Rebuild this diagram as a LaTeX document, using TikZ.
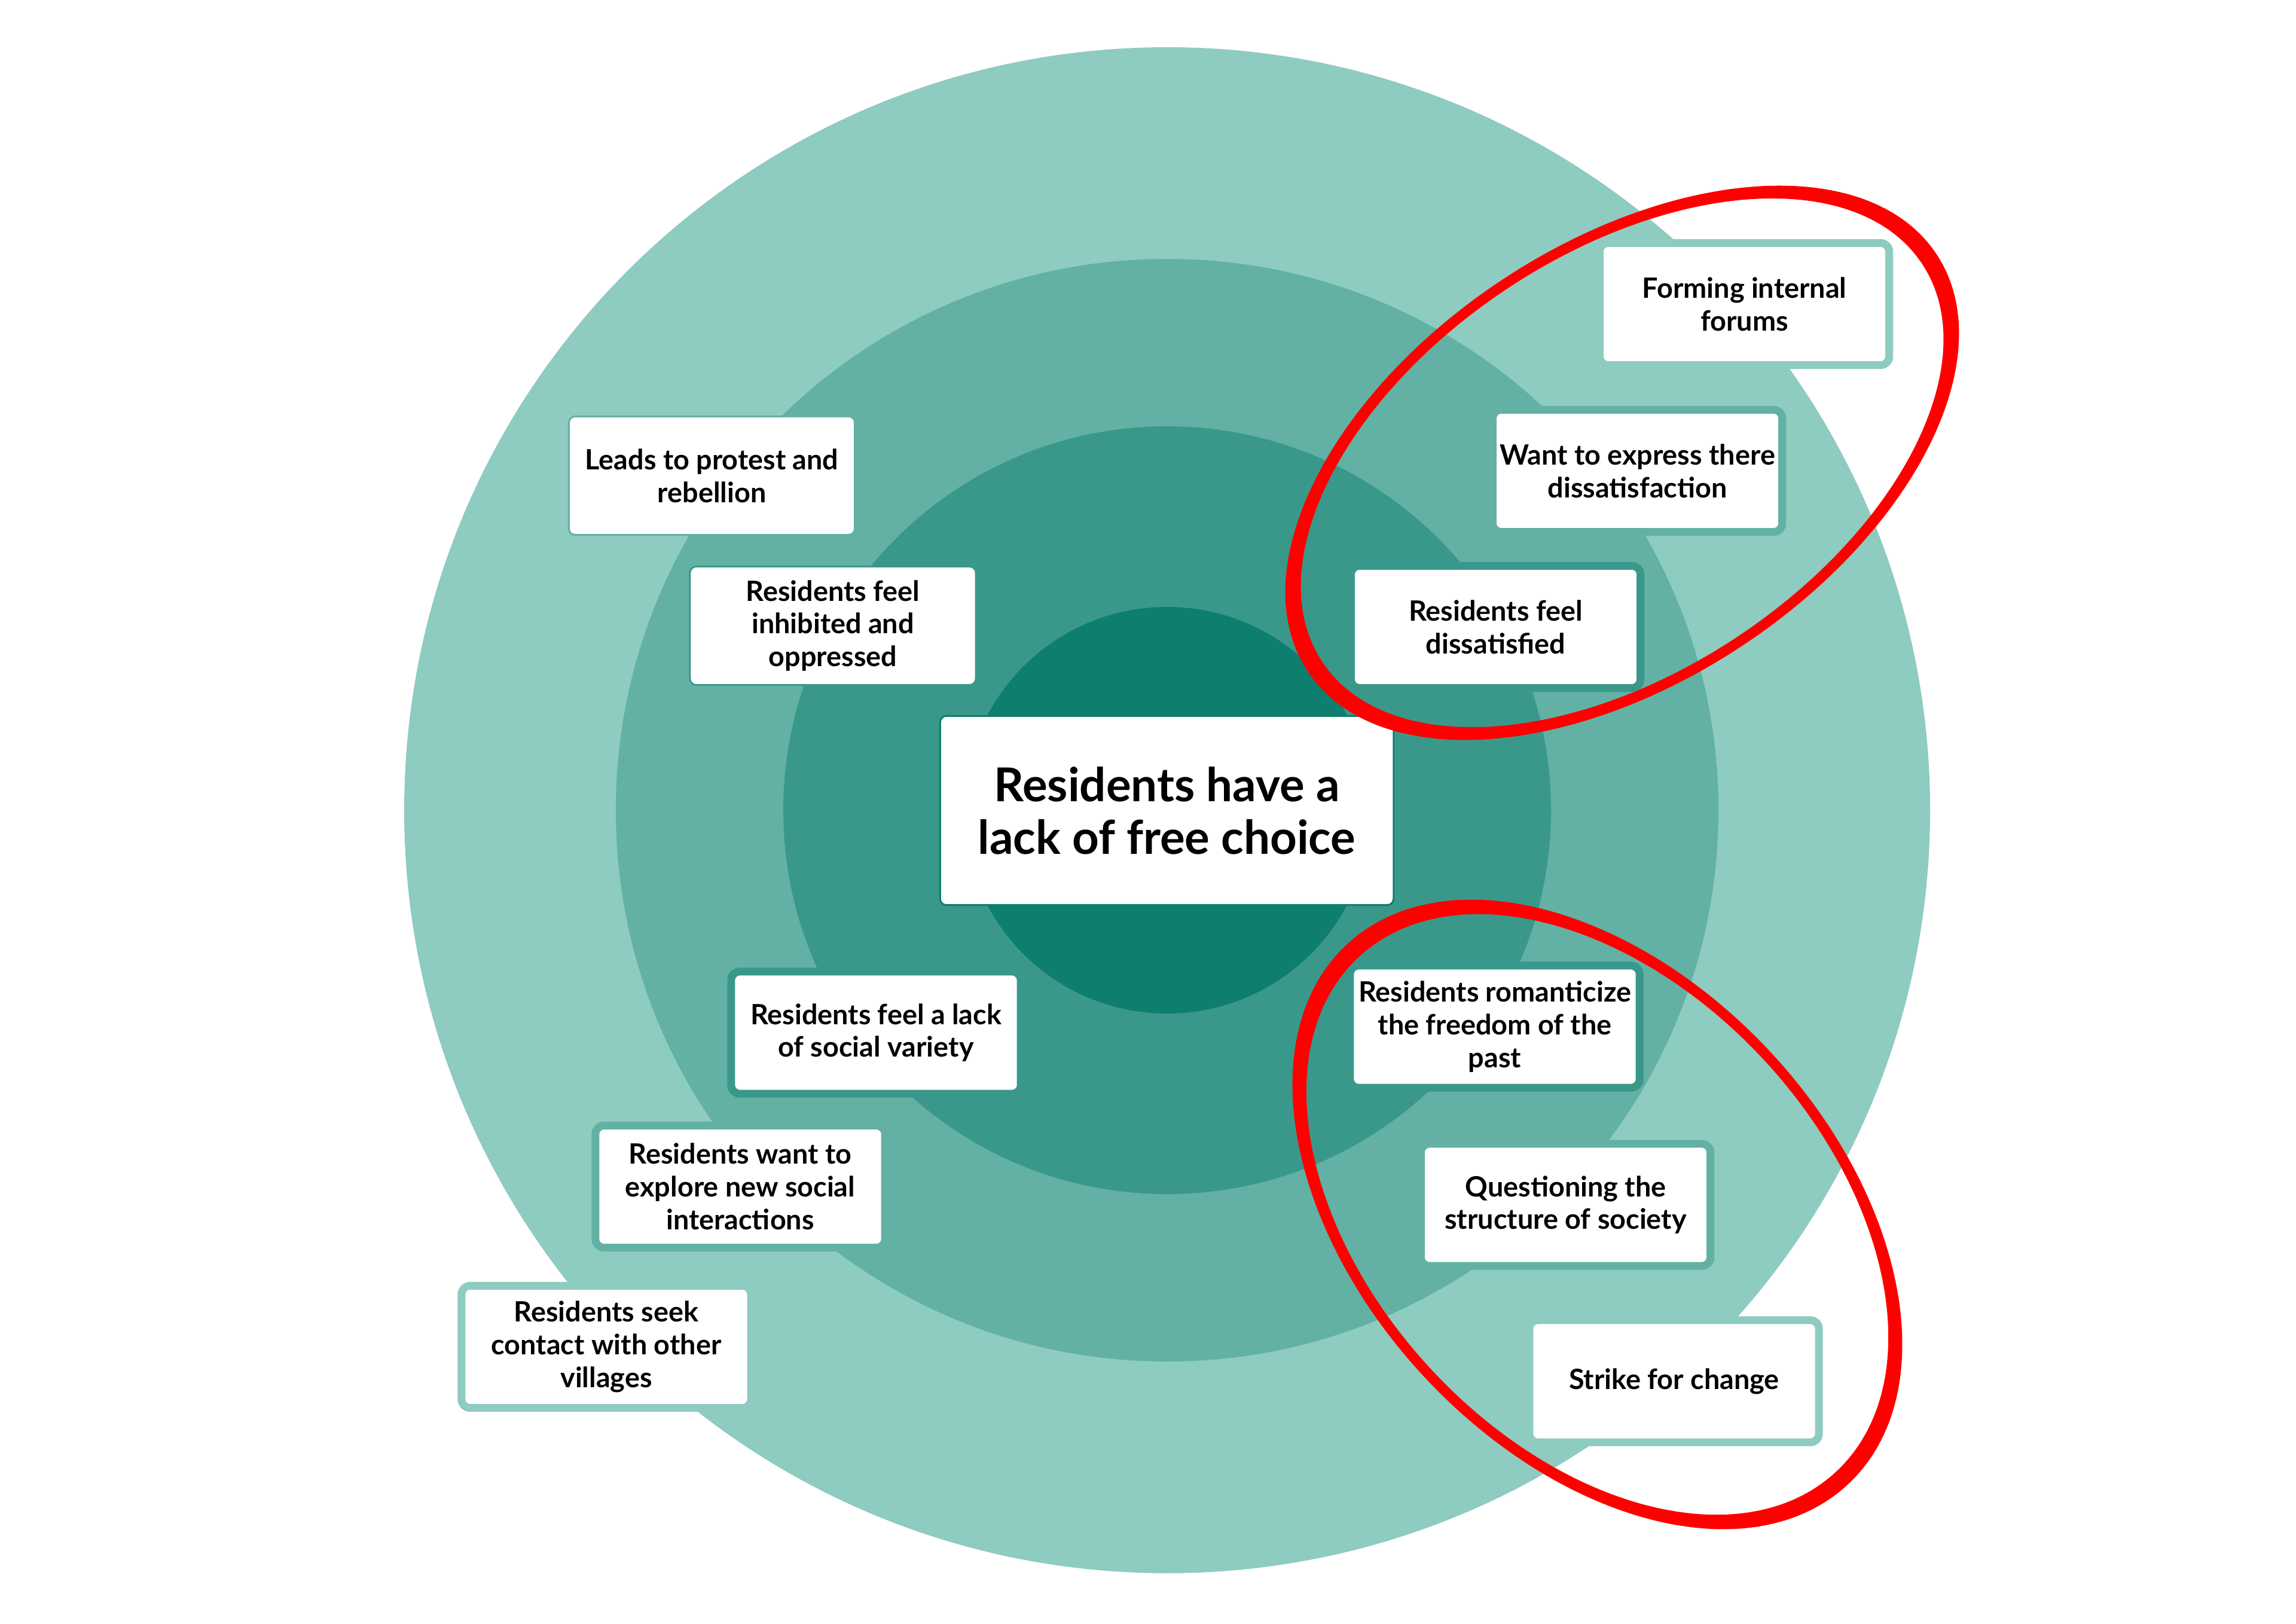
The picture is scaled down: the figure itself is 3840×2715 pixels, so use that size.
\documentclass[tikz,border=0pt]{standalone}
\usepackage{fontspec}
\setmainfont{Lato}
\definecolor{ringA}{HTML}{8ECBC0}
\definecolor{ringB}{HTML}{62B1A4}
\definecolor{ringC}{HTML}{3A988A}
\definecolor{ringD}{HTML}{0E7F6E}
\definecolor{hilite}{HTML}{FF0000}
\newcommand{\cardfont}{\fontsize{13.3}{15.6}\selectfont\bfseries}
\newcommand{\corefont}{\fontsize{22.2}{25}\selectfont\bfseries}
\tikzset{
  card/.style={fill=white, align=center, inner sep=0pt, text=black, font=\cardfont},
  thickcard/.style={card, draw=#1, line width=3.7pt, rounded corners=4pt,
    minimum width=4.84cm, minimum height=2.04cm},
  thincard/.style={card, draw=#1, line width=0.85pt, rounded corners=3pt,
    minimum width=4.78cm, minimum height=1.98cm},
  corecard/.style={card, draw=ringD, line width=0.85pt, rounded corners=3pt,
    minimum width=7.58cm, minimum height=3.16cm, font=\corefont},
  loop/.style={fill=hilite, even odd rule}
}
\begin{document}
\begin{tikzpicture}[x=0.01cm,y=-0.01cm]
\useasboundingbox (0,0) rectangle (3840,2715);
\fill[white] (0,0) rectangle (3840,2715);
% rings
\fill[ringA] (1952,1355) circle[radius=1276];
\fill[ringB] (1952,1355) circle[radius=922];
\fill[ringC] (1952,1355) circle[radius=642];
\fill[ringD] (1952,1355) circle[radius=340];
% cards
\node[thickcard=ringA] (forum) at (2917.5,508.5) {Forming internal\\forums};
\node[thickcard=ringB] (express) at (2738.5,787.5) {Want to express there\\dissatisfaction};
\node[thickcard=ringC] (dissat) at (2501.5,1048.5) {Residents feel\\dissatisfied};
\node[corecard] (core) at (1951.5,1355.5) {Residents have a\\lack of free choice};
\node[thincard=ringB] (leads) at (1190.5,795.5) {Leads to protest and\\rebellion};
\node[thincard=ringC] (inhib) at (1393,1046.5) {Residents feel\\inhibited and\\oppressed};
\node[thickcard=ringC] (social) at (1465,1727) {Residents feel a lack\\of social variety};
\node[thickcard=ringB] (explore) at (1238,1984.5) {Residents want to\\explore new social\\interactions};
\node[thickcard=ringA] (seek) at (1014,2252.5) {Residents seek\\contact with other\\villages};
\node[thickcard=ringC] (roman) at (2500,1717) {Residents romanticize\\the freedom of the\\past};
\node[thickcard=ringB] (quest) at (2618.5,2015) {Questioning the\\structure of society};
\node[thickcard=ringA] (strike) at (2800,2310) {Strike for change};
% red loops
\fill[loop, rotate around={33.6:(2713,774)}]
  (2713,774) ellipse[x radius=631, y radius=366]
  (2713,774) ellipse[x radius=602, y radius=349];
\fill[loop, rotate around={-47.2:(2671.5,2031)}]
  (2671.5,2031) ellipse[x radius=616, y radius=397]
  (2671.5,2031) ellipse[x radius=587, y radius=380];
\end{tikzpicture}
\end{document}
